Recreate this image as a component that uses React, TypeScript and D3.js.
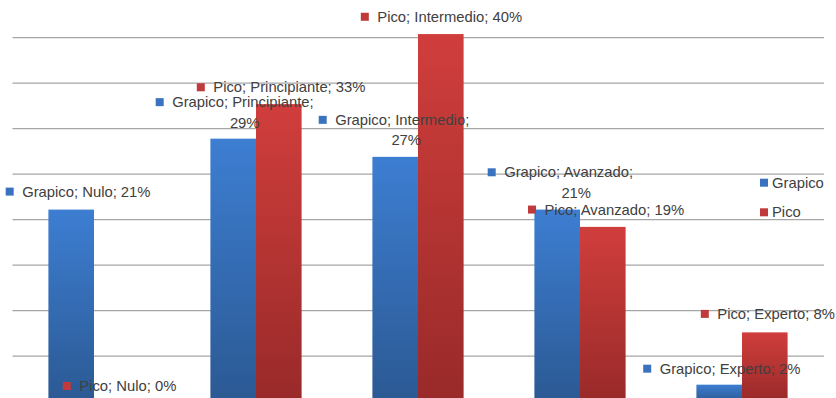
import React from "react";
import * as d3 from "d3";

const categories = ["Nulo", "Principiante", "Intermedio", "Avanzado", "Experto"];
const seriesNames = ["Grapico", "Pico"];
const grapicoValues = [21.1, 28.9, 26.9, 21.1, 1.85];
const picoValues = [0, 32.7, 40.4, 19.2, 7.6];
const gridTicks = [5, 10, 15, 20, 25, 30, 35, 40];

// label layout (offsets relative to bar center / bar top), [dx, dy, line2dx]
const grapicoLabelLayout: [number, number, number | null][] = [
  [-65.5, -18, null],
  [-77.5, -36.5, 11.5],
  [-76.5, -37, 10],
  [-69.5, -37.3, 11],
  [-76, -16, null],
];
const picoLabelLayout: [number, number, number | null][] = [
  [-54, -15.5, null],
  [-82, -16.8, null],
  [-80, -17.3, null],
  [-74.8, -17.3, null],
  [-64, -18.5, null],
];

const W = 836;
const H = 398;
const FONT = "'Liberation Sans', Arial, sans-serif";
const TEXT = "#404040";
const FS = 14.8;

export default function App() {
  const x0 = d3
    .scaleBand<string>()
    .domain(categories)
    .range([13, 823])
    .paddingInner(0.437)
    .paddingOuter(0.2185);
  const x1 = d3.scaleBand<string>().domain(seriesNames).range([0, x0.bandwidth()]);
  const y = d3.scaleLinear().domain([0, 40]).range([401.5, 37.7]);

  const series = [
    { name: "Grapico", values: grapicoValues, layout: grapicoLabelLayout, grad: "gBlue", sq: "#3a72c0" },
    { name: "Pico", values: picoValues, layout: picoLabelLayout, grad: "gRed", sq: "#c0393b" },
  ];

  return (
    <svg
      width={W}
      height={H}
      style={{ position: "fixed", left: 0, top: 0, background: "#fff" }}
      fontFamily={FONT}
    >
      <defs>
        <linearGradient id="gBlue" x1="0" y1="0" x2="0" y2="1">
          <stop offset="0" stopColor="#3d7ed2" />
          <stop offset="1" stopColor="#2b5993" />
        </linearGradient>
        <linearGradient id="gRed" x1="0" y1="0" x2="0" y2="1">
          <stop offset="0" stopColor="#d03e3c" />
          <stop offset="1" stopColor="#982a29" />
        </linearGradient>
      </defs>
      <rect x={0} y={0} width={W} height={H} fill="#fff" />
      {gridTicks.map((t) => (
        <line
          key={t}
          x1={12.5}
          x2={824}
          y1={y(t)}
          y2={y(t)}
          stroke="#a6a6a6"
          strokeWidth={1.3}
        />
      ))}
      {series.map((s) =>
        categories.map((c, i) => {
          const v = s.values[i];
          const bx = (x0(c) as number) + (x1(s.name) as number);
          const by = y(v);
          const h = y(0) - by;
          if (h <= 0) return null;
          return (
            <rect
              key={s.name + c}
              x={bx}
              y={by}
              width={x1.bandwidth()}
              height={h}
              fill={`url(#${s.grad})`}
            />
          );
        })
      )}
      {series.map((s) =>
        categories.map((c, i) => {
          const v = s.values[i];
          const cx = (x0(c) as number) + (x1(s.name) as number) + x1.bandwidth() / 2;
          const top = y(v);
          const [dx, dy, l2] = s.layout[i];
          const sx = cx + dx;
          const sy = top + dy;
          const pct = `${Math.round(v)}%`;
          const txStart = sx + 16.5;
          return (
            <g key={"l" + s.name + c} fill={TEXT} fontSize={FS}>
              <rect x={sx} y={sy - 4} width={8} height={8} fill={s.sq} />
              {l2 === null ? (
                <text x={txStart} y={sy} dominantBaseline="central">
                  {`${s.name}; ${c}; ${pct}`}
                </text>
              ) : (
                <>
                  <text x={txStart} y={sy} dominantBaseline="central">
                    {`${s.name}; ${c};`}
                  </text>
                  <text
                    x={sx + 89 + (l2 - 11.5)}
                    y={sy + 20.5}
                    dominantBaseline="central"
                    textAnchor="middle"
                  >
                    {pct}
                  </text>
                </>
              )}
            </g>
          );
        })
      )}
      {series.map((s, i) => (
        <g key={"lg" + s.name} fill={TEXT} fontSize={FS}>
          <rect x={760} y={182.7 + i * 29.6 - 4} width={8} height={8} fill={s.sq} />
          <text x={772} y={182.7 + i * 29.6} dominantBaseline="central">
            {s.name}
          </text>
        </g>
      ))}
    </svg>
  );
}
